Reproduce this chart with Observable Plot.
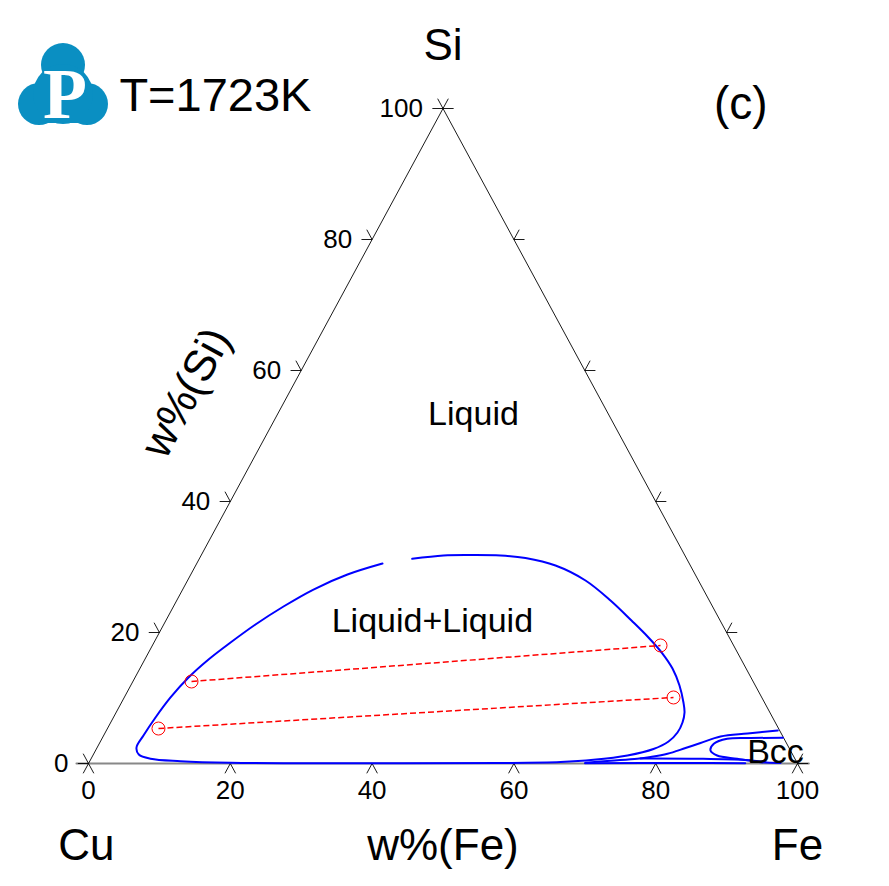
<!DOCTYPE html>
<html><head><meta charset="utf-8">
<script src="https://cdn.jsdelivr.net/npm/d3@7"></script>
<script src="https://cdn.jsdelivr.net/npm/@observablehq/plot@0.6"></script>
<style>
body{margin:0;background:#fff;}
#wrap{position:relative;width:889px;height:886px;}
#logo{position:absolute;left:0;top:0;}
</style></head><body>
<div id="wrap"></div>
<script>
// ---- data (wt%) ----
const siTicks = [0, 20, 40, 60, 80, 100];
const feTicks = [0, 20, 40, 60, 80, 100];
const rightTicks = [0, 20, 40, 60, 80, 100];
const siTickLabels = ["0", "20", "40", "60", "80", "100"];
const feTickLabels = ["0", "20", "40", "60", "80", "100"];

// miscibility gap boundary (Fe wt%, Si wt%), open at the top
const gapFe = [30.03, 34.19, 37.96, 42.23, 45.95, 50.75, 56.13, 61.18, 65.67, 69.36, 72.56, 75.12, 77.4, 79.26, 80.17, 80.65, 80.71, 80.13, 78.58, 75.41, 70.95, 66.46, 58.07, 41.2, 19.98, 12.8, 8.38, 6.41, 5.55, 5.62, 5.94, 6.53, 7.54, 8.99, 10.8, 12.94, 15.52, 18.45, 22.1, 26.2];
const gapSi = [31.25, 31.76, 31.83, 31.76, 31.37, 30.23, 27.94, 24.89, 21.83, 19.24, 16.79, 14.5, 11.91, 9.31, 7.79, 6.26, 4.73, 3.36, 2.21, 1.22, 0.56, 0.23, 0.08, 0.03, 0.11, 0.35, 0.72, 1.37, 2.44, 4.27, 7.02, 10.08, 13.13, 15.88, 18.47, 21.22, 23.97, 26.56, 28.85, 30.53];

// Bcc-region boundaries
const b1Fe = [94.7, 90.66, 87.08, 84.76, 83.02, 80.92, 78.78, 77.03, 73.42, 70.05];
const b1Si = [5.04, 4.58, 4.12, 3.13, 2.37, 1.48, 0.99, 0.72, 0.41, 0.11];
const b2Fe = [95.99, 91.43, 88.2, 86.69, 86.74, 88.06, 91.14, 94.68, 97.56];
const b2Si = [3.92, 3.89, 3.77, 3.01, 1.98, 1.22, 0.72, 0.2, 0.08];
const b3Fe = [77.48, 85.96, 92.4, 95.38];
const b3Si = [0.76, 0.72, 0.53, 0.23];
const b4Fe = [70.0, 85.0, 92.6];
const b4Si = [0.05, 0.06, 0.05];

// tie lines
const tieFeL = [8.27, 7.2];
const tieSiL = [12.52, 5.34];
const tieFeR = [71.67, 77.47];
const tieSiR = [18.02, 10.08];

// phase labels
const phaseText = ["Liquid", "Liquid+Liquid", "Bcc"];
const phaseFe = [27.6, 37.6, 96.06];
const phaseSi = [53.4, 21.8, 1.68];

// ---- helpers ----
const font = "'Liberation Sans', Arial, Helvetica, sans-serif";
const cx = (fe, si) => fe + si / 2;
const pts = (fe, si) => fe.map((f, i) => ({x: cx(f, si[i]), y: si[i]}));
const T = 1.5; // tick length (% units)

const ticks = [];
siTicks.forEach(s => { // left axis (Fe = 0)
  const x = cx(0, s);
  ticks.push({x1: x, y1: s, x2: x - T, y2: s});
  ticks.push({x1: x, y1: s, x2: x - T / 2, y2: s + T});
});
rightTicks.forEach(s => { // right axis (Cu = 0)
  const x = cx(100 - s, s);
  ticks.push({x1: x, y1: s, x2: x + T, y2: s});
  ticks.push({x1: x, y1: s, x2: x + T / 2, y2: s + T});
});
feTicks.forEach(f => { // base
  ticks.push({x1: f, y1: 0, x2: f - T / 2, y2: -T});
  ticks.push({x1: f, y1: 0, x2: f + T / 2, y2: -T});
});

const ties = tieFeL.map((f, i) => ({x1: cx(f, tieSiL[i]), y1: tieSiL[i], x2: cx(tieFeR[i], tieSiR[i]), y2: tieSiR[i]}));
const tieEnds = ties.flatMap(t => [{x: t.x1, y: t.y1}, {x: t.x2, y: t.y2}]);

const outerLabels = [
  {x: 50, y: 109.6, text: "Si", size: 44},
  {x: -0.3, y: -12.6, text: "Cu", size: 44},
  {x: 100, y: -12.6, text: "Fe", size: 44},
  {x: 50, y: -12.6, text: "w%(Fe)", size: 44},
  {x: 17.9, y: 101.9, text: "T=1723K", size: 47},
  {x: 92.0, y: 100.6, text: "(c)", size: 46}
];

const blue = {x: "x", y: "y", curve: "catmull-rom", stroke: "#0000ff", strokeWidth: 2};

const chart = Plot.plot({
  width: 889, height: 886,
  marginLeft: 88, marginRight: 92, marginTop: 108, marginBottom: 123,
  x: {domain: [0, 100], axis: null},
  y: {domain: [0, 100], axis: null},
  style: {fontFamily: font, background: "#fff", overflow: "visible"},
  marks: [
    // base (gray, extended)
    Plot.line([{x: -1.7, y: 0}, {x: 101.6, y: 0}], {x: "x", y: "y", stroke: "#888", strokeWidth: 2}),
    // left and right edges
    Plot.line([{x: 0, y: 0}, {x: 50, y: 100}, {x: 100, y: 0}], {x: "x", y: "y", stroke: "#000", strokeWidth: 0.9}),
    Plot.link(ticks, {x1: "x1", y1: "y1", x2: "x2", y2: "y2", stroke: "#000", strokeWidth: 0.9}),
    // tick labels
    Plot.text(siTicks, {x: d => cx(0, d), y: d => d, text: (d, i) => siTickLabels[i], textAnchor: "end", dx: -20, fontSize: 26, fill: "#000"}),
    Plot.text(feTicks, {x: d => d, y: 0, text: (d, i) => feTickLabels[i], dy: 27, fontSize: 26, fill: "#000"}),
    // boundaries
    Plot.line(pts(gapFe, gapSi), blue),
    Plot.line(pts(b1Fe, b1Si), blue),
    Plot.line(pts(b2Fe, b2Si), blue),
    Plot.line(pts(b3Fe, b3Si), blue),
    Plot.line(pts(b4Fe, b4Si), blue),
    // tie lines
    Plot.link(ties, {x1: "x1", y1: "y1", x2: "x2", y2: "y2", stroke: "#ff0000", strokeWidth: 1.5, strokeDasharray: "6,3"}),
    Plot.dot(tieEnds, {x: "x", y: "y", r: 6.5, stroke: "#ff0000", strokeWidth: 1, fill: "none"}),
    // phase labels
    Plot.text(phaseText, {x: (d, i) => cx(phaseFe[i], phaseSi[i]), y: (d, i) => phaseSi[i], text: d => d, fontSize: 34, fill: "#000"}),
    // outer labels
    Plot.text(outerLabels, {x: "x", y: "y", text: "text", fontSize: d => d.size, fill: "#000"}),
    Plot.text(["w%(Si)"], {x: 13.8, y: 56.6, text: d => d, rotate: -61.6, fontSize: 44, fill: "#000"})
  ]
});
const wrap = document.getElementById("wrap");
wrap.appendChild(chart);

// logo
const ns = "http://www.w3.org/2000/svg";
const logo = document.createElementNS(ns, "svg");
logo.setAttribute("id", "logo");
logo.setAttribute("width", "130");
logo.setAttribute("height", "140");
logo.innerHTML = `
  <g fill="#0a8fc2">
    <circle cx="63" cy="65" r="22"/>
    <circle cx="39" cy="104" r="21"/>
    <circle cx="87" cy="104" r="21"/>
    <circle cx="63" cy="94" r="30"/>
    <rect x="39" y="100" width="48" height="23"/>
  </g>
  <text x="65" y="118" text-anchor="middle" fill="#fff" font-family="'Liberation Serif','DejaVu Serif',serif" font-weight="bold" font-size="72">P</text>`;
wrap.appendChild(logo);
</script>
</body></html>
